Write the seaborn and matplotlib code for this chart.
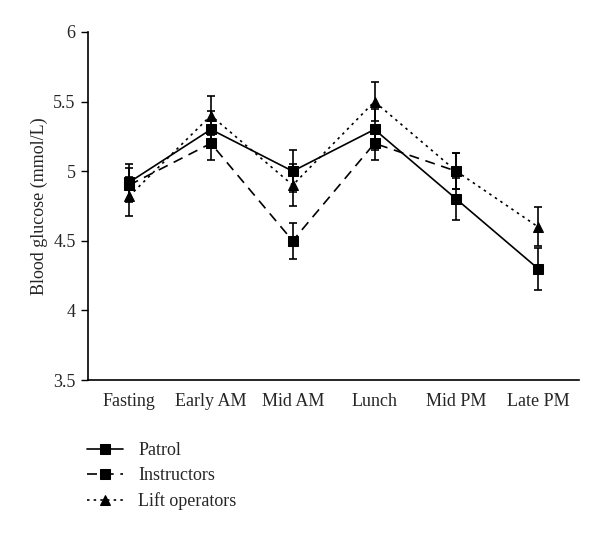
import matplotlib
matplotlib.use("Agg")
import matplotlib.pyplot as plt
import seaborn as sns
import numpy as np
import pandas as pd
from matplotlib.ticker import FixedLocator

categories = ["Fasting", "Early AM", "Mid AM", "Lunch", "Mid PM", "Late PM"]
patrol = [4.92, 5.30, 5.00, 5.30, 4.80, 4.30]
patrol_err = [0.13, 0.13, 0.15, 0.15, 0.15, 0.15]
instructors = [4.90, 5.20, 4.50, 5.20, 5.00, np.nan]
instructors_err = [0.12, 0.12, 0.13, 0.12, 0.13, np.nan]
lift = [4.82, 5.40, 4.90, 5.50, 5.00, 4.60]
lift_err = [0.14, 0.14, 0.15, 0.14, 0.13, 0.14]
series_names = ["Patrol", "Instructors", "Lift operators"]
yticks = [3.5, 4, 4.5, 5, 5.5, 6]
ytick_labels = ["3.5", "4", "4.5", "5", "5.5", "6"]
ylabel = "Blood glucose (mmol/L)"

sns.set_style("white")
plt.rcParams["font.family"] = ["Liberation Serif", "DejaVu Serif"]

fig = plt.figure(figsize=(6, 5.33), dpi=100)
ax = fig.add_axes([0.147, 0.287, 0.818, 0.653])

x = np.arange(len(categories))
styles = [("-", "s", 7), ((0, (6, 4)), "s", 7), ((0, (1.5, 2.5)), "^", 6.5)]
vals = [patrol, instructors, lift]
errs = [patrol_err, instructors_err, lift_err]

for name, v, e, (ls, mk, ms) in zip(series_names, vals, errs, styles):
    ax.errorbar(x, v, yerr=e, fmt="none", ecolor="black", elinewidth=1.2,
                capsize=3, capthick=1.2, zorder=2)
    df = pd.DataFrame({"x": x, "y": v}).dropna()
    sns.lineplot(data=df, x="x", y="y", ax=ax, color="black", linewidth=1.2,
                 linestyle=ls, marker=mk, markersize=ms, markeredgecolor="black",
                 markerfacecolor="black", label=name, zorder=3)

ax.set_xlim(-0.5, len(categories) - 0.5)
ax.set_ylim(3.5, 6)
ax.set_yticks(yticks)
ax.set_yticklabels(ytick_labels, fontsize=13)
ax.set_xticks(x)
ax.set_xticklabels(categories, fontsize=13)
ax.xaxis.set_minor_locator(FixedLocator(np.arange(-0.5, len(categories), 1.0)))
ax.tick_params(axis="x", which="major", length=0, pad=9)
ax.tick_params(axis="x", which="minor", length=5, width=1, color="black", direction="out")
ax.tick_params(axis="y", which="major", length=5, width=1, color="black", direction="out",
               left=True, pad=4)
ax.set_xlabel("")
ax.set_ylabel(ylabel, fontsize=13, labelpad=4)

for s in ["top", "right"]:
    ax.spines[s].set_visible(False)
for s in ["left", "bottom"]:
    ax.spines[s].set_color("black")
    ax.spines[s].set_linewidth(1.2)

ax.legend(loc="upper left", bbox_to_anchor=(0.133, 0.184), bbox_transform=fig.transFigure,
          frameon=False, fontsize=13, handlelength=2.0, labelspacing=0.45,
          handletextpad=0.85, borderaxespad=0)

fig.savefig("out.png", dpi=100)
